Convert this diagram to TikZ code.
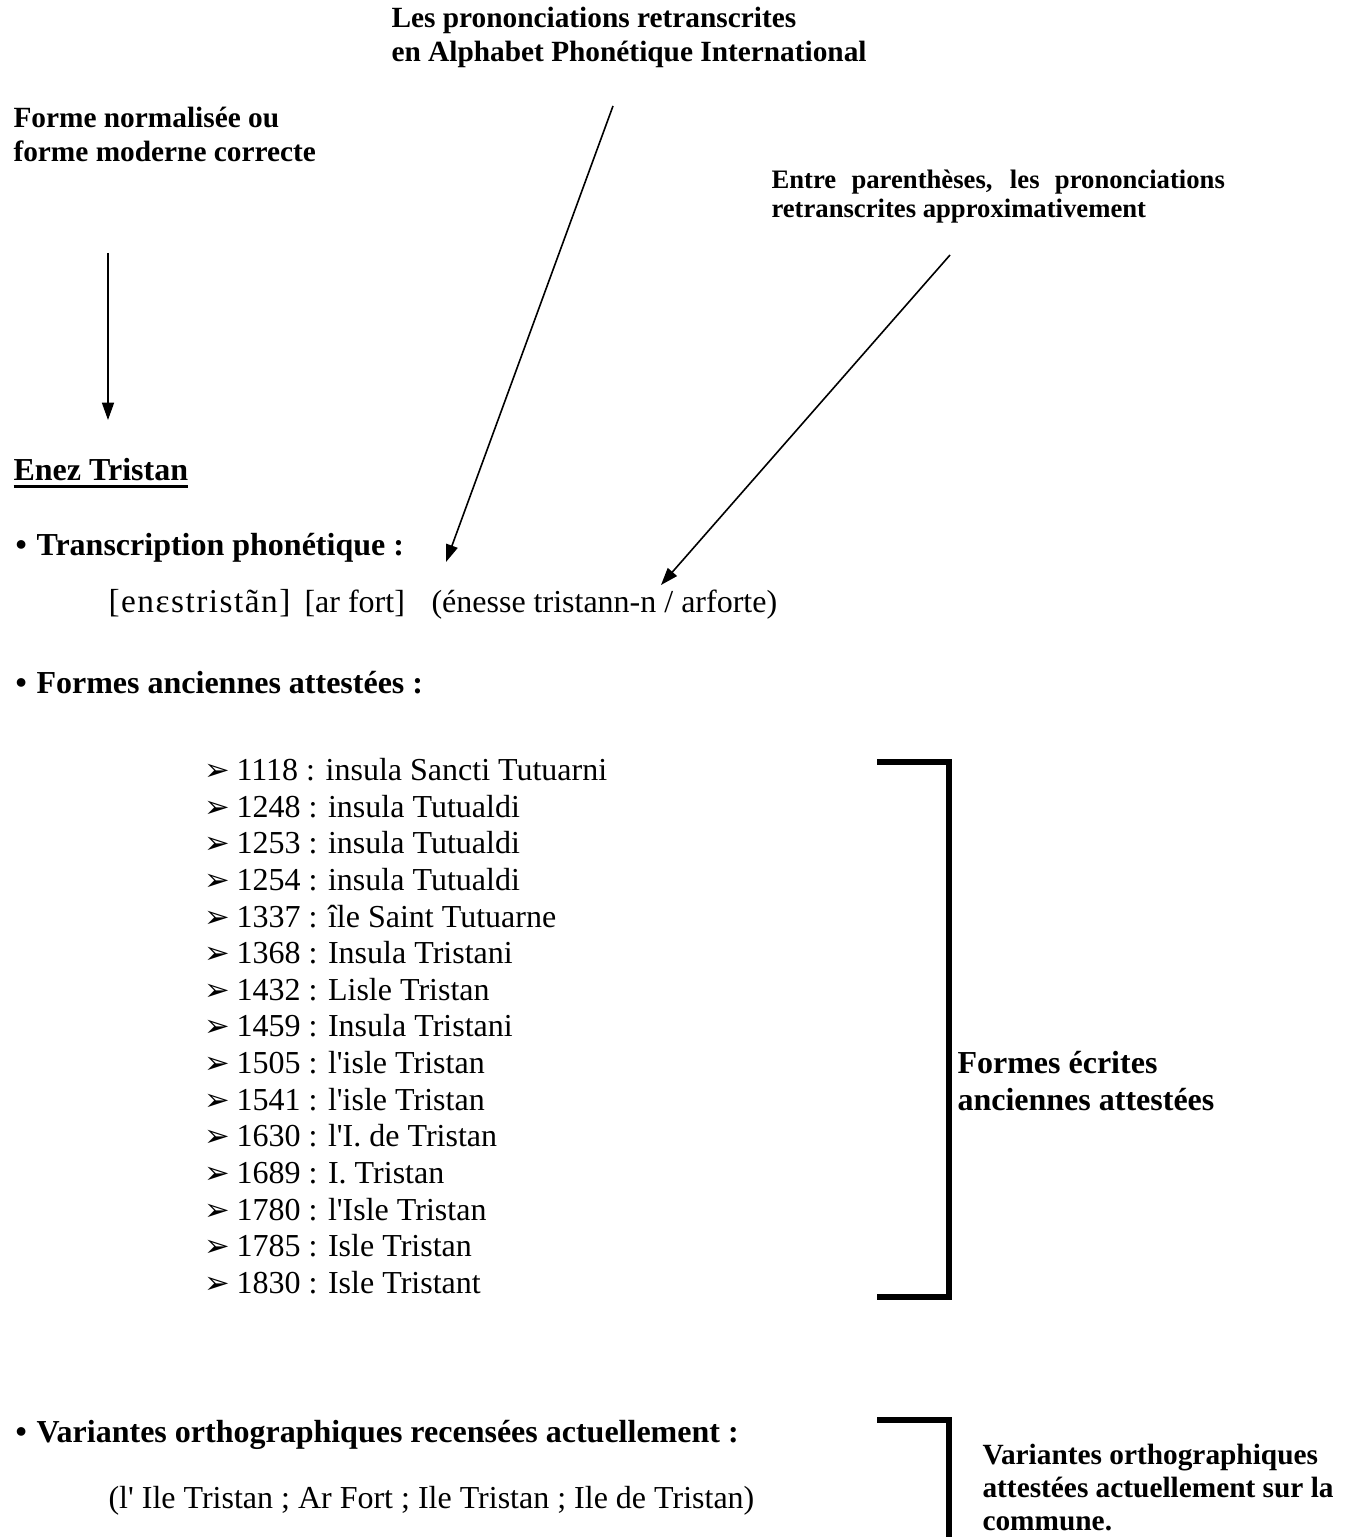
\documentclass[tikz,border=0pt]{standalone}
\usepackage{fontspec}
\setmainfont{Liberation Serif}
\newfontfamily\flechefont{DejaVu Sans}
\newfontfamily\ipafont[LetterSpace=4.5]{Liberation Serif}
\usetikzlibrary{arrows.meta}
\newcommand{\puceliste}{\makebox[12pt][l]{\flechefont\fontsize{11.5}{12}\selectfont ➢}}
\newcommand{\apos}{\textquotesingle}
\newlength{\largeur}
\newcommand{\souligne}[1]{\settowidth{\largeur}{#1}#1\hspace{-\largeur}\rule[-3pt]{\largeur}{1.1pt}}

\begin{document}
\begin{tikzpicture}[x=0.375pt,y=-0.375pt,
  txt/.style={inner sep=0pt,anchor=base west,font=\fontsize{12}{14}\selectfont},
  gras/.style={txt,font=\fontsize{12}{14}\selectfont\bfseries},
  petit/.style={txt,font=\fontsize{11}{13}\selectfont\bfseries},
  fleche/.style={line width=0.6pt,-{Triangle[length=6.5pt,width=4.5pt]}},
  crochet/.style={line width=1.9pt}]
\useasboundingbox (0,0) rectangle (1356,1537);

% textes du haut
\node[petit] (titre1) at (391,28) {Les prononciations retranscrites};
\node[petit] (titre2) at (391,62) {en Alphabet Phonétique International};
\node[petit] (forme1) at (13,128) {Forme normalisée ou};
\node[petit] (forme2) at (13,162) {forme moderne correcte};
\node[txt,font=\fontsize{10}{12}\selectfont\bfseries] (entre1) at (771,189) {\makebox[170pt][s]{Entre parenthèses, les prononciations}};
\node[txt,font=\fontsize{10}{12}\selectfont\bfseries] (entre2) at (771,218) {retranscrites approximativement};

% fleches
\coordinate (h1) at (108,253);
\coordinate (b1) at (108,420);
\coordinate (h2) at (613,106);
\coordinate (b2) at (446,562);
\coordinate (h3) at (950,255);
\coordinate (b3) at (661,585);
\draw[fleche](h1)--(b1);
\draw[fleche](h2)--(b2);
\draw[fleche](h3)--(b3);

\node[gras] (nom) at (13,480) {\souligne{Enez Tristan}};

\node[gras] (puce1) at (15,555) {•};
\node[gras] (transcr) at (36,555) {Transcription phonétique :};
\node[txt,font=\ipafont\fontsize{12.5}{15}\selectfont] (phon1) at (108,612) {[enɛstristãn]};
\node[txt] (phon2) at (304,612) {[ar fort]};
\node[txt] (approx) at (431,612) {(énesse tristann-n / arforte)};

\node[gras] (puce2) at (15,693) {•};
\node[gras] (anciennes) at (36,693) {Formes anciennes attestées :};

% liste des formes
\node[txt] (f1118) at (204,780) {\puceliste 1118 : insula Sancti Tutuarni};
\node[txt] (f1248) at (204,817) {\puceliste 1248 : insula Tutualdi};
\node[txt] (f1253) at (204,853) {\puceliste 1253 : insula Tutualdi};
\node[txt] (f1254) at (204,890) {\puceliste 1254 : insula Tutualdi};
\node[txt] (f1337) at (204,927) {\puceliste 1337 : île Saint Tutuarne};
\node[txt] (f1368) at (204,963) {\puceliste 1368 : Insula Tristani};
\node[txt] (f1432) at (204,1000) {\puceliste 1432 : Lisle Tristan};
\node[txt] (f1459) at (204,1036) {\puceliste 1459 : Insula Tristani};
\node[txt] (f1505) at (204,1073) {\puceliste 1505 : l\apos isle Tristan};
\node[txt] (f1541) at (204,1110) {\puceliste 1541 : l\apos isle Tristan};
\node[txt] (f1630) at (204,1146) {\puceliste 1630 : l\apos I. de Tristan};
\node[txt] (f1689) at (204,1183) {\puceliste 1689 : I. Tristan};
\node[txt] (f1780) at (204,1220) {\puceliste 1780 : l\apos Isle Tristan};
\node[txt] (f1785) at (204,1256) {\puceliste 1785 : Isle Tristan};
\node[txt] (f1830) at (204,1293) {\puceliste 1830 : Isle Tristant};

\draw[crochet](877,762)--(949,762)--(949,1297)--(877,1297);
\node[gras] (ecrites1) at (957,1073) {Formes écrites};
\node[gras] (ecrites2) at (957,1110) {anciennes attestées};

% variantes
\node[gras] (puce3) at (15,1442) {•};
\node[gras] (variantes) at (36,1442) {Variantes orthographiques recensées actuellement :};
\node[txt] (liste) at (108,1508) {(l\apos{} Ile Tristan ; Ar Fort ; Ile Tristan ; Ile de Tristan)};

\draw[crochet](877,1420)--(949,1420)--(949,1545);
\node[petit] (commune1) at (982,1464) {Variantes orthographiques};
\node[petit] (commune2) at (982,1497) {attestées actuellement sur la};
\node[petit] (commune3) at (982,1530) {commune.};

\end{tikzpicture}
\end{document}
